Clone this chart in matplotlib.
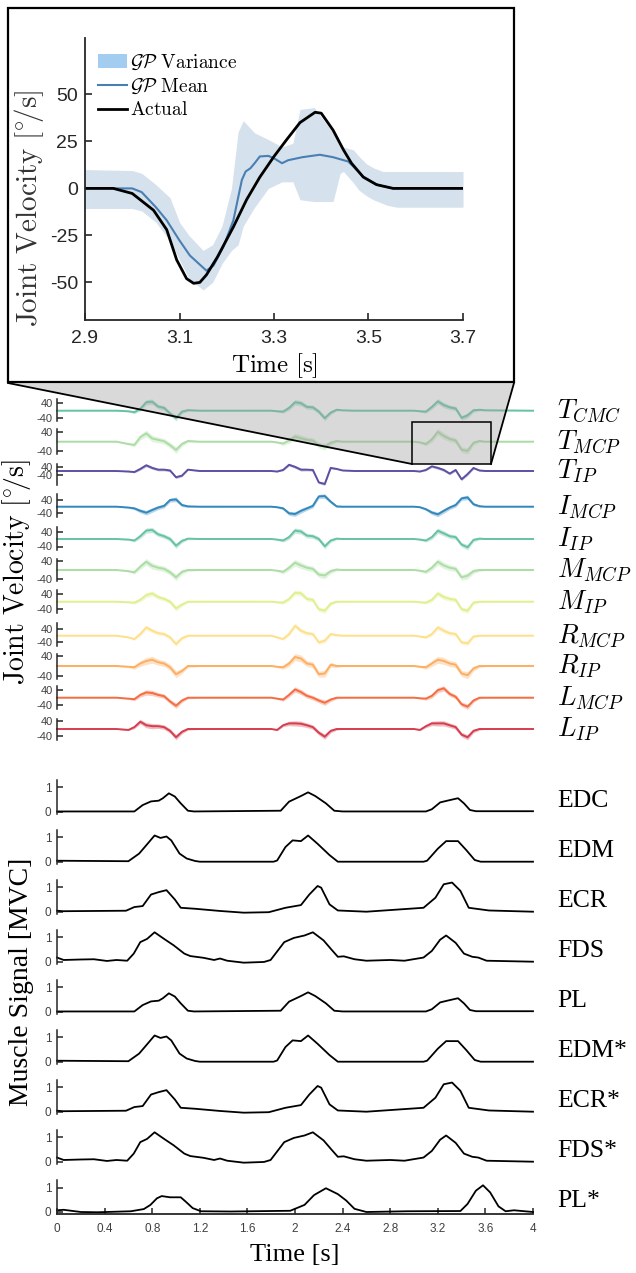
import matplotlib

matplotlib.use('Agg')
import matplotlib.pyplot as plt
import numpy as np
from matplotlib.lines import Line2D
from matplotlib.patches import Patch, Polygon, Rectangle

plt.rcParams['font.family'] = ['Liberation Serif', 'DejaVu Serif']
plt.rcParams['mathtext.fontset'] = 'cm'

W, H = 636, 1273
SANS = 'Liberation Sans'
GRAY = '#404040'
DARK = '#262626'

# ---- zoomed inset (2.9 - 3.7 s) ----
inset_t = [2.9, 2.96, 3.0, 3.045, 3.073, 3.094, 3.115, 3.13, 3.143, 3.157, 3.18, 3.214, 3.242,
           3.27, 3.3, 3.327, 3.355, 3.387, 3.4, 3.425, 3.447, 3.464, 3.489, 3.517, 3.552, 3.7]
inset_actual = [0, 0, -2.7, -11.6, -22, -38, -48, -50.5, -50, -46, -36.6, -20.5, -6,
                6, 17, 26, 35, 40.5, 40, 31, 20.5, 13.4, 6, 2, 0, 0]
mean_t = [2.9, 2.96, 3.0, 3.02, 3.05, 3.073, 3.1, 3.122, 3.157, 3.172, 3.193, 3.214, 3.232, 3.24,
          3.25, 3.259, 3.27, 3.288, 3.3, 3.317, 3.33, 3.36, 3.397, 3.425, 3.457, 3.468, 3.489,
          3.517, 3.552, 3.7]
inset_mean = [0, 0, 0, -2, -10, -17, -27.7, -35.7, -43.75, -41, -31, -17, 4.5, 9,
              10.7, 13.4, 17, 17.3, 16, 13.4, 15, 16.6, 17.9, 16.6, 14.3, 11.6, 6.25,
              2, 0, 0]
band_t = [2.9, 3.0, 3.02, 3.05, 3.08, 3.1, 3.12, 3.15, 3.17, 3.19, 3.21, 3.224, 3.235, 3.259,
          3.288, 3.317, 3.34, 3.355, 3.385, 3.425, 3.44, 3.447, 3.468, 3.48, 3.496, 3.51, 3.53,
          3.54, 3.56, 3.7]
band_upper = [10, 9.5, 8, 2, -5, -18, -25, -33, -30, -20, 0, 30, 36, 29.5,
              26, 22, 24, 42, 43, 29.5, 24, 22, 20.5, 17, 13, 11, 9,
              9, 9, 9]
band_lower = [-10.7, -10.7, -12, -18, -28, -38, -48, -54, -50, -40, -33, -30, -20, -10,
              0, 3.5, 3.5, -6, -7, -7, 8, 9, 3, -1, -4, -6, -8,
              -9, -10, -10]

# ---- joint velocities (deg/s) ----
joint_names = [r'$T_{CMC}$', r'$T_{MCP}$', r'$T_{IP}$', r'$I_{MCP}$', r'$I_{IP}$', r'$M_{MCP}$',
               r'$M_{IP}$', r'$R_{MCP}$', r'$R_{IP}$', r'$L_{MCP}$', r'$L_{IP}$']
joint_colors = ['#66c2a5', '#abdda4', '#5e4fa2', '#3288bd', '#66c2a5', '#abdda4',
                '#dff08f', '#fee08b', '#fdae61', '#f46d43', '#d53e4f']
joint_t = [0, 0.5, 0.6, 0.65, 0.7, 0.75, 0.8, 0.85, 0.9, 0.95, 1.0, 1.05, 1.1, 1.2,
           1.8, 1.85, 1.9, 1.95, 2.0, 2.05, 2.1, 2.15, 2.2, 2.25, 2.3, 2.35, 2.4, 2.5,
           3.0, 3.05, 3.1, 3.15, 3.2, 3.25, 3.3, 3.35, 3.4, 3.45, 3.5, 3.55, 3.6, 4.0]
t_cmc = [0, 0, -3, -8, 10, 45, 48, 22, 15, -15, -40, -5, 3, 0,
         0, -3, -5, 15, 45, 40, 20, 18, -5, -40, -10, 5, 2, 0,
         0, -3, -5, 20, 50, 30, 18, 12, -38, -25, 2, 5, 2, 0]
t_mcp = [0, 0, -10, -14, 20, 36, 14, 8, 2, -15, -36, -10, 3, 0,
         0, -3, -8, 5, 22, 15, 8, 5, -15, -22, -5, 3, 0, 0,
         0, -3, -10, 10, 43, 25, 12, 5, -35, -40, -5, 3, 0, 0]
t_ip = [0, 0, -5, -10, 20, 55, 30, 13, 13, 5, -60, -45, 13, 0,
        0, -5, 10, 60, 40, 13, 13, 10, -110, -125, 30, 20, 5, 0,
        0, -5, 10, 45, 30, 10, -25, 10, -80, -30, 29, 5, 0, 0]
i_mcp = [0, 0, -5, -10, -25, -36, -20, -5, 5, 40, 44, 10, 2, 0,
         0, -3, -10, -40, -44, -25, -10, 5, 62, 64, 30, 2, 0, 0,
         0, -3, -15, -35, -46, -25, -5, 10, 50, 56, 15, 3, 0, 0]
i_ip = [0, 0, -3, -8, 15, 45, 48, 25, 15, 0, -36, -10, 2, 0,
        0, -3, -8, 10, 45, 40, 18, 15, 0, -39, -8, 2, 0, 0,
        0, -3, -8, 10, 44, 30, 15, 10, -30, -44, -5, 2, 0, 0]
m_mcp = [0, 0, -5, -10, 15, 36, 18, 10, 5, -10, -32, -8, 0, 0,
         0, -3, -8, 10, 32, 20, 10, 5, -20, -24, -5, 2, 0, 0,
         0, -3, -8, 10, 36, 20, 10, 5, -32, -25, -5, 0, 0, 0]
m_ip = [0, 0, -3, -5, 10, 35, 44, 25, 15, 0, -36, -15, 0, 0,
        0, -3, -5, 15, 48, 45, 15, 10, -40, -48, -10, 0, 0, 0,
        0, -3, -5, 10, 44, 25, 15, 10, -40, -48, -5, 0, 0, 0]
r_mcp = [0, 0, -10, -20, 10, 50, 30, 15, 10, -10, -50, -15, 0, 0,
         0, -10, -20, 10, 60, 30, 15, 10, -40, -30, 10, 3, 0, 0,
         0, -5, -10, 10, 50, 30, 15, 10, -40, -46, -5, 0, 0, 0]
r_ip = [0, 0, -3, -5, 10, 20, 25, 15, 10, -5, -33, -20, 0, 0,
        0, -3, -5, 10, 36, 30, 10, 5, -33, -30, 5, 0, 0, 0,
        0, -3, -5, 10, 25, 20, 10, 5, -30, -37, -10, 0, 0, 0]
l_mcp = [0, 0, -5, -8, 15, 28, 25, 15, 8, -20, -43, -15, 0, 0,
         0, -5, -10, 15, 44, 30, 10, 0, -15, -27, -10, 0, 0, 0,
         0, -3, -5, 10, 40, 50, 20, 5, -35, -48, -15, 0, 0, 0]
l_ip = [0, 0, -5, 10, 39, 20, 15, 15, 10, -10, -44, -15, 0, 0,
        0, -5, 20, 30, 30, 28, 20, 10, -20, -41, -10, 0, 0, 0,
        0, -5, 15, 30, 30, 30, 20, 10, -30, -44, -10, 0, 0, 0]
joint_sd = [1, 1, 4, 8, 12, 14, 14, 12, 12, 12, 14, 10, 6, 2,
            1, 4, 8, 12, 14, 14, 12, 12, 12, 14, 10, 6, 2, 1,
            1, 4, 8, 12, 14, 14, 12, 12, 12, 14, 10, 6, 2, 1]
joint_vals = [t_cmc, t_mcp, t_ip, i_mcp, i_ip, m_mcp, m_ip, r_mcp, r_ip, l_mcp, l_ip]

# row layout (pixels): zero line and distance between -40 and 40 ticks
joint_zero_px = [410.7, 441.7, 471, 506.7, 539, 570, 601.7, 635.7, 666, 697.7, 729]
joint_span_px = [15, 18.4, 8.3, 13.3, 15, 18.3, 15, 13.3, 20, 15, 15]

# ---- muscle signals (MVC) ----
edc_t = [0, 0.65, 0.72, 0.79, 0.855, 0.89, 0.94, 0.99, 1.04, 1.1, 1.15, 1.88, 1.95, 2.05,
         2.11, 2.17, 2.26, 2.33, 2.4, 3.1, 3.15, 3.22, 3.28, 3.37, 3.42, 3.47, 3.52, 4.0]
edc_v = [0.01, 0.01, 0.27, 0.42, 0.45, 0.55, 0.75, 0.62, 0.34, 0.04, 0.01, 0.04, 0.41, 0.64,
         0.79, 0.64, 0.34, 0.04, 0.01, 0.01, 0.1, 0.38, 0.45, 0.55, 0.34, 0.07, 0.02, 0.02]
edm_t = [0, 0.6, 0.69, 0.75, 0.82, 0.87, 0.92, 0.96, 1.03, 1.09, 1.16, 1.2, 1.82, 1.85, 1.92,
         1.98, 2.05, 2.11, 2.19, 2.29, 2.36, 2.4, 3.08, 3.11, 3.2, 3.27, 3.37, 3.44, 3.51,
         3.56, 4.0]
edm_v = [0.04, 0.02, 0.33, 0.67, 1.07, 0.97, 1.03, 0.87, 0.33, 0.13, 0.03, 0.0, 0.0, 0.05, 0.6,
         0.87, 0.84, 1.07, 0.73, 0.27, 0.0, 0.0, 0.0, 0.04, 0.53, 0.84, 0.84, 0.47, 0.07,
         0.0, 0.0]
ecr_t = [0, 0.05, 0.58, 0.65, 0.72, 0.79, 0.855, 0.92, 0.99, 1.04, 1.16, 1.37, 1.57, 1.78,
         1.92, 2.05, 2.12, 2.19, 2.22, 2.29, 2.36, 2.6, 3.08, 3.18, 3.25, 3.32, 3.39, 3.46,
         3.63, 4.0]
ecr_v = [0.04, 0.02, 0.04, 0.19, 0.23, 0.7, 0.8, 0.88, 0.5, 0.16, 0.12, 0.03, -0.04, -0.02,
         0.16, 0.27, 0.7, 1.05, 0.98, 0.3, 0.05, 0.0, 0.16, 0.57, 1.12, 1.19, 0.85, 0.16,
         0.05, 0.0]
fds_t = [0, 0.056, 0.2, 0.31, 0.42, 0.5, 0.59, 0.645, 0.7, 0.757, 0.82, 0.9, 0.98, 1.07, 1.12,
         1.23, 1.32, 1.37, 1.43, 1.57, 1.74, 1.795, 1.91, 1.99, 2.08, 2.15, 2.24, 2.3, 2.36,
         2.41, 2.5, 2.6, 2.8, 2.92, 3.08, 3.15, 3.22, 3.27, 3.35, 3.42, 3.49, 3.54, 3.61, 4.0]
fds_v = [0.17, 0.07, 0.09, 0.1, 0.03, 0.07, 0.04, 0.33, 0.8, 0.93, 1.2, 0.93, 0.67, 0.33, 0.23,
         0.16, 0.07, 0.13, 0.04, -0.04, -0.01, 0.07, 0.8, 0.97, 1.07, 1.2, 0.87, 0.53, 0.2,
         0.22, 0.1, 0.04, 0.07, 0.04, 0.17, 0.44, 0.9, 1.07, 0.77, 0.33, 0.2, 0.17, 0.04, 0.0]
pl_star_t = [0, 0.056, 0.2, 0.34, 0.62, 0.73, 0.785, 0.84, 0.88, 0.95, 1.04, 1.08, 1.14, 1.21,
             1.46, 1.96, 2.08, 2.16, 2.26, 2.36, 2.43, 2.5, 2.6, 2.94, 3.39, 3.45, 3.52, 3.58,
             3.64, 3.71, 3.77, 3.84, 4.0]
pl_star_v = [0.07, 0.09, 0.0, -0.01, 0.03, 0.12, 0.29, 0.56, 0.65, 0.6, 0.6, 0.43, 0.16, 0.03,
             0.02, 0.05, 0.29, 0.69, 0.97, 0.73, 0.47, 0.13, 0.0, 0.03, 0.04, 0.33, 0.87, 1.09,
             0.8, 0.23, 0.03, 0.07, 0.0]

# the starred channels look identical to the plain ones except PL*
muscle_names = ['EDC', 'EDM', 'ECR', 'FDS', 'PL', 'EDM*', 'ECR*', 'FDS*', 'PL*']
muscle_series = [(edc_t, edc_v), (edm_t, edm_v), (ecr_t, ecr_v), (fds_t, fds_v), (edc_t, edc_v),
                 (edm_t, edm_v), (ecr_t, ecr_v), (fds_t, fds_v), (pl_star_t, pl_star_v)]
muscle_zero_px = [811.7, 861.7, 911.7, 961.7, 1011.7, 1061.7, 1111.7, 1161.7, 1212.0]
MUSCLE_SCALE = 24.5  # px per MVC unit
time_ticks = [0, 0.4, 0.8, 1.2, 1.6, 2.0, 2.4, 2.8, 3.2, 3.6, 4.0]

VEL_LABEL = r'$\mathrm{Joint\ Velocity}\ [{}^{\circ}\!/\mathrm{s}]$'


def box(x0, y0, x1, y1):
    return [x0 / W, 1 - y1 / H, (x1 - x0) / W, (y1 - y0) / H]


def fx(x):
    return x / W


def fy(y):
    return 1 - y / H


fig = plt.figure(figsize=(W / 100, H / 100), dpi=100)

# inset frame
fig.add_artist(Rectangle((fx(8), fy(382)), fx(514) - fx(8), fy(8) - fy(382), transform=fig.transFigure,
                         facecolor='white', edgecolor='black', lw=1.6, zorder=-1))

ax = fig.add_axes(box(85, 38, 463, 320))
ax.set_facecolor('none')
ax.fill_between(band_t, band_lower, band_upper, color='#d5e1ec', lw=0)
ax.plot(mean_t, inset_mean, color='#4a7fb3', lw=1.5)
ax.plot(inset_t, inset_actual, color='black', lw=2)
ax.set_xlim(2.9, 3.7)
ax.set_ylim(-70, 80)
ax.set_xticks([2.9, 3.1, 3.3, 3.5, 3.7])
ax.set_xticklabels(['2.9', '3.1', '3.3', '3.5', '3.7'])
ax.set_yticks([-50, -25, 0, 25, 50])
ax.set_yticklabels(['-50', '-25', '0', '25', '50'])
for side in ['top', 'right']:
    ax.spines[side].set_visible(False)
for side in ['left', 'bottom']:
    ax.spines[side].set_color(DARK)
    ax.spines[side].set_linewidth(1.3)
ax.tick_params(direction='in', length=5, width=1.2, color=DARK, labelsize=14,
               labelcolor=DARK, labelfontfamily=SANS)
ax.tick_params(axis='x', pad=7)
ax.tick_params(axis='y', pad=5)
handles = [Patch(facecolor='#a3cdf0', edgecolor='none'),
           Line2D([], [], color='#4a7fb3', lw=1.5),
           Line2D([], [], color='black', lw=2)]
labels = [r'$\mathcal{GP}\ \mathrm{Variance}$', r'$\mathcal{GP}\ \mathrm{Mean}$', r'$\mathrm{Actual}$']
ax.legend(handles, labels, loc='upper left', bbox_to_anchor=(0.035, 0.948), frameon=False,
          fontsize=14, handlelength=1.5, handletextpad=0.15, labelspacing=0.26, borderpad=0,
          borderaxespad=0)
fig.text(fx(274), fy(366), r'$\mathrm{Time\ [s]}$', ha='center', va='center', fontsize=18)
fig.text(fx(29), fy(208), VEL_LABEL, ha='center', va='center',
         rotation=90, fontsize=21, color='#333333')

# connector from the zoom box to the inset
fig.add_artist(Polygon([[fx(8), fy(383)], [fx(514), fy(383)], [fx(491), fy(464)], [fx(412), fy(464)]],
                       closed=True, transform=fig.transFigure, facecolor='#a0a0a0', alpha=0.4,
                       edgecolor='none', zorder=5))
fig.add_artist(Line2D([fx(8), fx(412)], [fy(383), fy(464)], transform=fig.transFigure,
                      color='black', lw=1.3, zorder=6))
fig.add_artist(Line2D([fx(514), fx(491)], [fy(383), fy(464)], transform=fig.transFigure,
                      color='black', lw=1.3, zorder=6))
fig.add_artist(Rectangle((fx(412), fy(464)), fx(491) - fx(412), fy(422) - fy(464),
                         transform=fig.transFigure, facecolor='none', edgecolor='black',
                         lw=1.1, zorder=6))

# joint velocity rows
sd = np.array(joint_sd)
for name, color, vals, z, span in zip(joint_names, joint_colors, joint_vals, joint_zero_px, joint_span_px):
    mean = np.array(vals)
    lo = (mean - sd).min()
    hi = (mean + sd).max()
    s = span / 80.0
    jax = fig.add_axes(box(57, z - hi * s, 533, z - lo * s))
    jax.set_facecolor('none')
    jax.fill_between(joint_t, mean - sd, mean + sd, color=color, alpha=0.35, lw=0, clip_on=False)
    jax.plot(joint_t, mean, color=color, lw=1.4, clip_on=False)
    jax.set_xlim(0, 4)
    jax.set_ylim(lo, hi)
    jax.set_yticks([-40, 40])
    jax.set_yticklabels(['-40', '40'])
    jax.set_xticks([])
    for side in ['top', 'right', 'bottom']:
        jax.spines[side].set_visible(False)
    jax.spines['left'].set_color(DARK)
    jax.spines['left'].set_linewidth(1.1)
    jax.tick_params(axis='y', direction='in', length=4, width=1.1, color=DARK, labelsize=8,
                    labelcolor=GRAY, labelfontfamily=SANS, pad=3)
    jax.text(4.2, 0, name, ha='left', va='center', fontsize=19.5)

fig.text(fx(17), fy(572), VEL_LABEL, ha='center', va='center', rotation=90, fontsize=20)

# muscle rows
for k, (name, (mt, mv), z) in enumerate(zip(muscle_names, muscle_series, muscle_zero_px)):
    max_ = fig.add_axes(box(57, z - 1.3 * MUSCLE_SCALE, 533, z + 0.1 * MUSCLE_SCALE))
    max_.set_facecolor('none')
    max_.plot(mt, mv, color='black', lw=1.3, clip_on=False)
    max_.set_xlim(0, 4)
    max_.set_ylim(-0.1, 1.3)
    max_.set_yticks([0, 1])
    max_.set_yticklabels(['0', '1'])
    for side in ['top', 'right']:
        max_.spines[side].set_visible(False)
    max_.spines['left'].set_color(DARK)
    max_.spines['left'].set_linewidth(1.1)
    max_.tick_params(axis='y', direction='in', length=4, width=1.1, color=DARK, labelsize=8.5,
                     labelcolor=GRAY, labelfontfamily=SANS, pad=4)
    if k == len(muscle_names) - 1:
        max_.set_xticks(time_ticks)
        max_.set_xticklabels(['%g' % t for t in time_ticks])
        max_.spines['bottom'].set_color(DARK)
        max_.spines['bottom'].set_linewidth(1.3)
        max_.tick_params(axis='x', direction='in', length=4, width=1.1, color=DARK, labelsize=8.5,
                         labelcolor=GRAY, labelfontfamily=SANS, pad=6)
    else:
        max_.set_xticks([])
        max_.spines['bottom'].set_visible(False)
    max_.text(4.2, 0.45, name, ha='left', va='center', fontsize=18.5)

fig.text(fx(22), fy(982), 'Muscle Signal [MVC]', ha='center', va='center', rotation=90, fontsize=20)
fig.text(fx(295), fy(1255), 'Time [s]', ha='center', va='center', fontsize=19)

fig.savefig('out.png', dpi=100)
